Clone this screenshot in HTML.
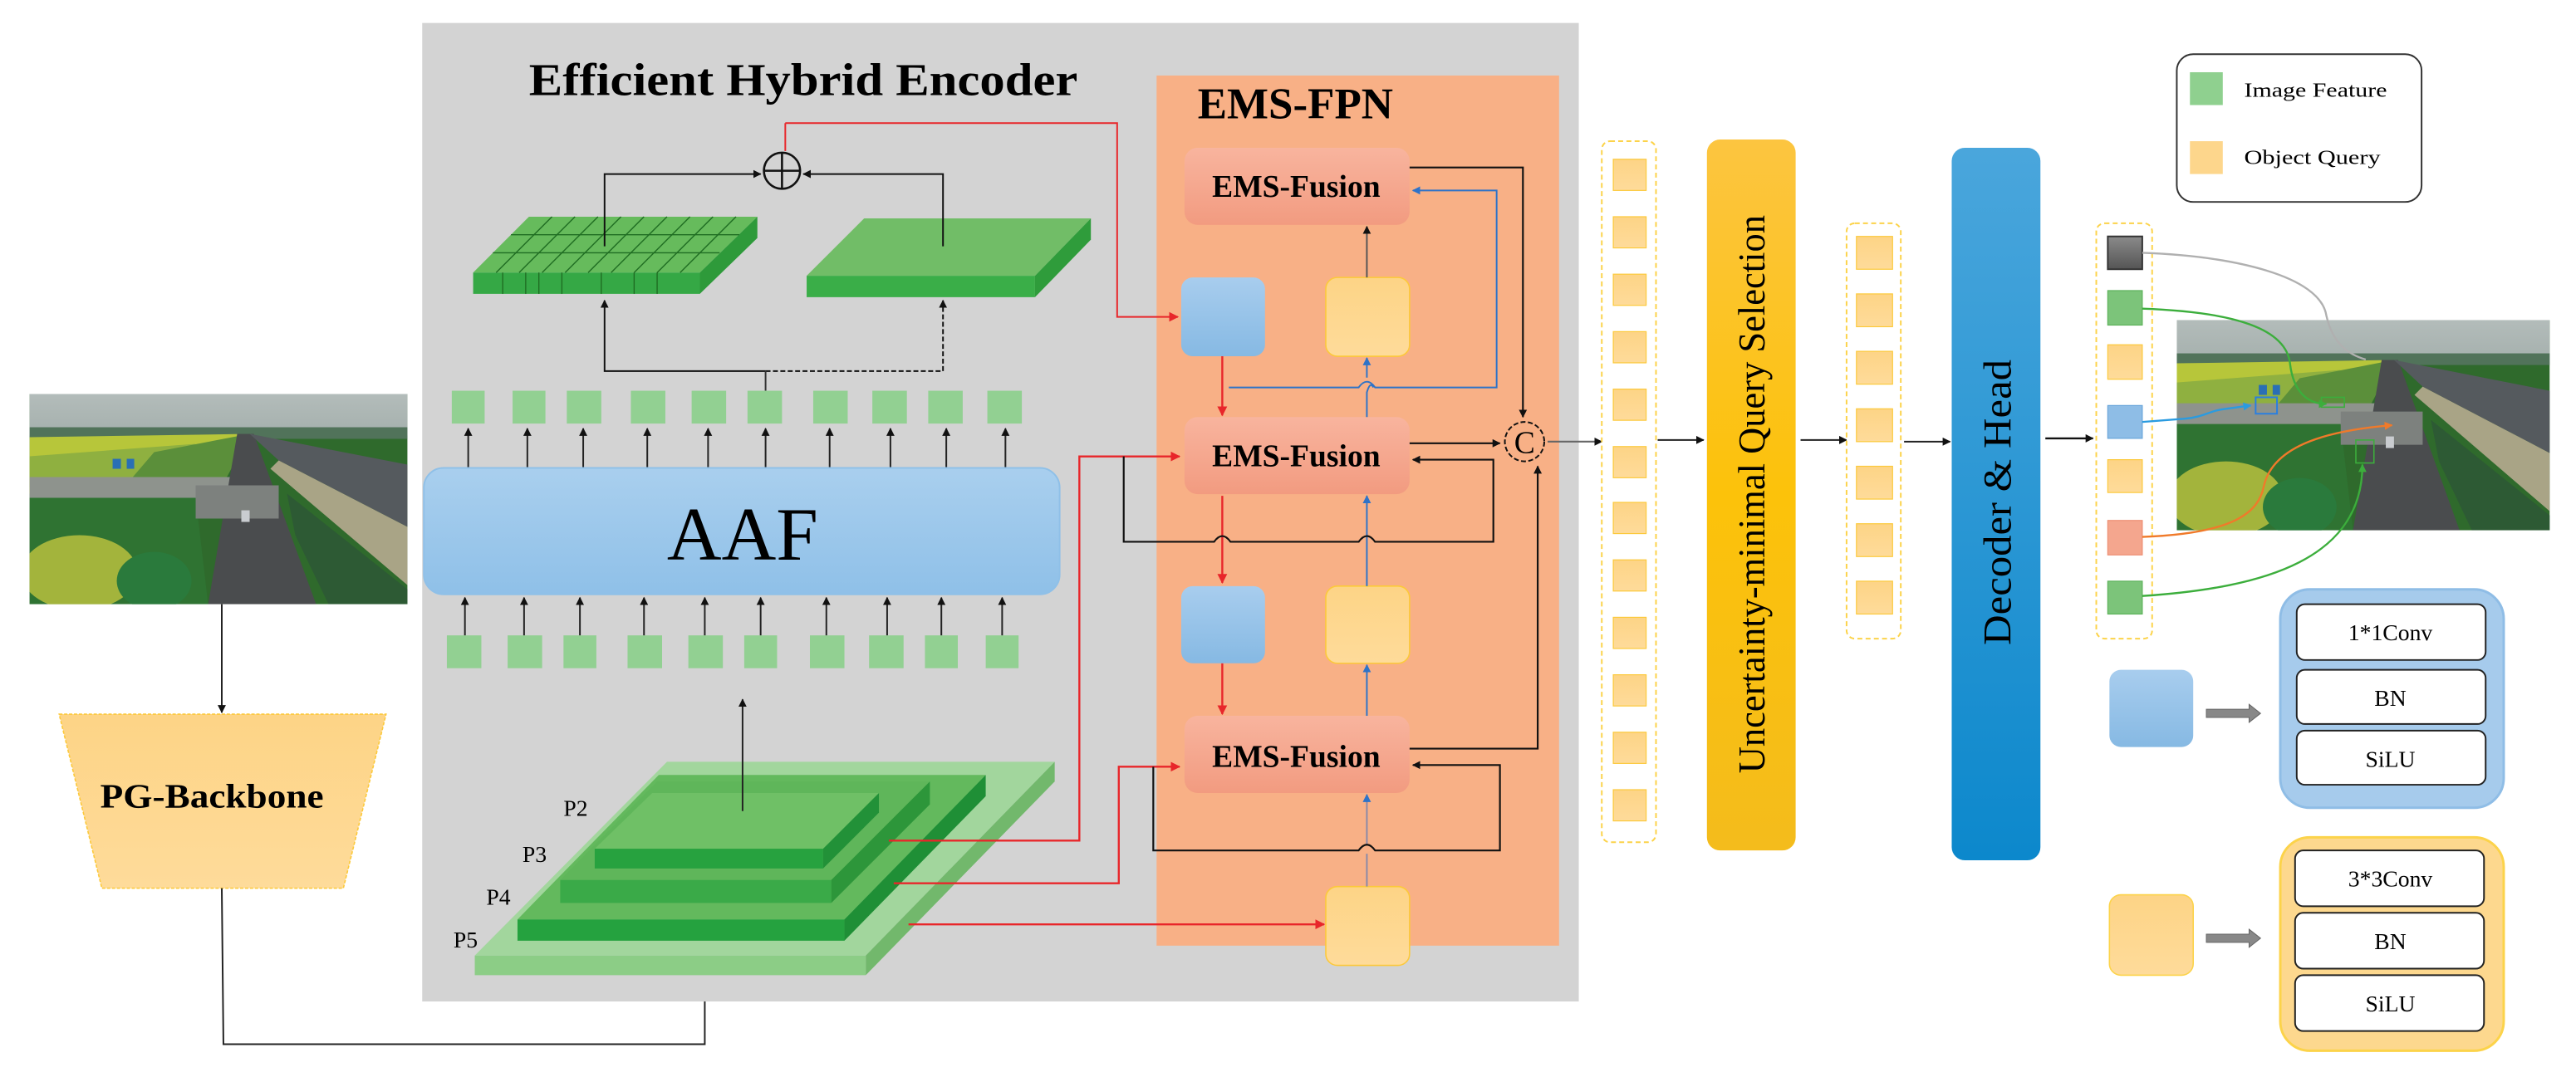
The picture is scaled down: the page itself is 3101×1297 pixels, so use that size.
<!DOCTYPE html>
<html><head><meta charset="utf-8"><style>
html,body{margin:0;padding:0;background:#fff;}
svg{display:block;}
text{font-family:"Liberation Serif",serif;}
</style></head><body>
<svg width="3101" height="1297" viewBox="0 0 1568 656" preserveAspectRatio="none" xmlns="http://www.w3.org/2000/svg">
<defs>
<marker id="ab" viewBox="0 0 10 10" refX="9" refY="5" markerWidth="5" markerHeight="5" markerUnits="userSpaceOnUse" orient="auto"><path d="M0,0L10,5L0,10z" fill="#111"/></marker>
<marker id="ar" viewBox="0 0 10 10" refX="9" refY="5" markerWidth="6" markerHeight="6" markerUnits="userSpaceOnUse" orient="auto"><path d="M0,0L10,5L0,10z" fill="#e8262a"/></marker>
<marker id="au" viewBox="0 0 10 10" refX="9" refY="5" markerWidth="5" markerHeight="5" markerUnits="userSpaceOnUse" orient="auto"><path d="M0,0L10,5L0,10z" fill="#2e73c8"/></marker>
<marker id="ag" viewBox="0 0 10 10" refX="9" refY="5" markerWidth="5" markerHeight="5" markerUnits="userSpaceOnUse" orient="auto"><path d="M0,0L10,5L0,10z" fill="#3cae3c"/></marker>
<marker id="ao" viewBox="0 0 10 10" refX="9" refY="5" markerWidth="5" markerHeight="5" markerUnits="userSpaceOnUse" orient="auto"><path d="M0,0L10,5L0,10z" fill="#f07a2a"/></marker>
<marker id="abl" viewBox="0 0 10 10" refX="9" refY="5" markerWidth="5" markerHeight="5" markerUnits="userSpaceOnUse" orient="auto"><path d="M0,0L10,5L0,10z" fill="#2a9be0"/></marker>
<linearGradient id="gYel" x1="0" y1="0" x2="0" y2="1"><stop offset="0" stop-color="#fdd486"/><stop offset="1" stop-color="#fedb9a"/></linearGradient>
<linearGradient id="gBlue" x1="0" y1="0" x2="0" y2="1"><stop offset="0" stop-color="#a8cdee"/><stop offset="1" stop-color="#86b9e3"/></linearGradient>
<linearGradient id="gAAF" x1="0" y1="0" x2="0" y2="1"><stop offset="0" stop-color="#a9cfee"/><stop offset="1" stop-color="#8fc0e8"/></linearGradient>
<linearGradient id="gFus" x1="0" y1="0" x2="0" y2="1"><stop offset="0" stop-color="#f8b49e"/><stop offset="1" stop-color="#f29b80"/></linearGradient>
<linearGradient id="gUnc" x1="0" y1="0" x2="0" y2="1"><stop offset="0" stop-color="#fcc540"/><stop offset="0.5" stop-color="#fcc20a"/><stop offset="1" stop-color="#f4bc1c"/></linearGradient>
<linearGradient id="gDec" x1="0" y1="0" x2="0" y2="1"><stop offset="0" stop-color="#4aa6dc"/><stop offset="1" stop-color="#0c88cc"/></linearGradient>
<linearGradient id="gGray" x1="0" y1="0" x2="0" y2="1"><stop offset="0" stop-color="#8a8a8a"/><stop offset="1" stop-color="#555"/></linearGradient>
<linearGradient id="gSky" x1="0" y1="0" x2="0" y2="1"><stop offset="0" stop-color="#b3bcba"/><stop offset="1" stop-color="#a5b0ad"/></linearGradient>
<symbol id="photo" viewBox="0 0 455 253" preserveAspectRatio="none">
<rect width="455" height="253" fill="#2f6a2c"/>
<rect width="455" height="50" fill="url(#gSky)"/>
<rect y="40" width="455" height="14" fill="#51735a"/>
<polygon points="0,52 265,48 180,120 0,120" fill="#b7c63a"/>
<polygon points="0,75 200,60 120,110 0,112" fill="#8fb040"/>
<polygon points="150,70 265,48 235,105 120,105" fill="#5b8f3a"/>
<polygon points="0,100 250,100 250,130 0,130" fill="#8e938d"/>
<polygon points="0,125 200,125 215,253 0,253" fill="#2f7332"/>
<ellipse cx="60" cy="215" rx="70" ry="45" fill="#a3b43c"/>
<ellipse cx="150" cy="225" rx="45" ry="35" fill="#2a7a3c"/>
<polygon points="250,48 270,48 345,253 215,253" fill="#4a4c4e"/>
<polygon points="200,110 300,110 300,150 200,150" fill="#7d817e"/>
<polygon points="265,48 455,85 455,160 300,80" fill="#555a5e"/>
<polygon points="300,80 455,160 455,230 290,90" fill="#a9a486"/>
<polygon points="310,120 455,235 455,253 360,253 320,170" fill="#2d5a34"/>
<rect x="100" y="78" width="10" height="12" fill="#2a6fb5"/><rect x="117" y="78" width="9" height="12" fill="#2a6fb5"/>
<rect x="255" y="140" width="10" height="14" fill="#c9ccd0"/>
</symbol>
</defs>

<!-- left photo -->
<use href="#photo" x="18" y="240" width="230" height="128"/>
<line x1="135" y1="368" x2="135" y2="434" stroke="#222" stroke-width="1" marker-end="url(#ab)"/>
<polygon points="36,435 235,435 209,541 62,541" fill="url(#gYel)" stroke="#fcc93a" stroke-width="0.8" stroke-dasharray="2,1"/>
<text x="129" y="492" font-size="21" font-weight="bold" text-anchor="middle" textLength="136" lengthAdjust="spacingAndGlyphs">PG-Backbone</text>
<polyline points="135,541 136,636 429,636 429,595" fill="none" stroke="#222" stroke-width="1" marker-end="url(#ab)"/>

<!-- gray box -->
<rect x="257" y="14" width="704" height="596" fill="#d3d3d3"/>
<text x="322" y="58" font-size="28" font-weight="bold" textLength="334" lengthAdjust="spacingAndGlyphs">Efficient Hybrid Encoder</text>

<!-- orange box -->
<rect x="704" y="46" width="245" height="530" fill="#f8b086"/>
<text x="729" y="72" font-size="27" font-weight="bold" textLength="119" lengthAdjust="spacingAndGlyphs">EMS-FPN</text>

<!-- grid plate -->
<polygon points="322,132 461,132 426,166 288,166" fill="#66bb5c"/>
<polygon points="288,166 426,166 426,179 288,179" fill="#35a845"/>
<polygon points="426,166 461,132 461,145 426,179" fill="#2e9a3a"/>
<g stroke="#1f6d22" stroke-width="0.7">
<line x1="336" y1="132" x2="302" y2="166"/><line x1="350" y1="132" x2="316" y2="166"/><line x1="364" y1="132" x2="330" y2="166"/><line x1="378" y1="132" x2="344" y2="166"/><line x1="392" y1="132" x2="358" y2="166"/><line x1="406" y1="132" x2="372" y2="166"/><line x1="420" y1="132" x2="386" y2="166"/><line x1="434" y1="132" x2="400" y2="166"/><line x1="448" y1="132" x2="414" y2="166"/>
<line x1="311" y1="143" x2="450" y2="143"/><line x1="300" y1="154" x2="438" y2="154"/>
<line x1="306" y1="166" x2="306" y2="179"/><line x1="320" y1="166" x2="320" y2="179"/><line x1="328" y1="166" x2="328" y2="179"/><line x1="342" y1="166" x2="342" y2="179"/><line x1="366" y1="166" x2="366" y2="179"/><line x1="386" y1="166" x2="386" y2="179"/><line x1="400" y1="166" x2="400" y2="179"/>
</g>
<!-- plain plate -->
<polygon points="526,133 664,133 630,168 491,168" fill="#71bd67"/>
<polygon points="491,168 630,168 630,181 491,181" fill="#3aae48"/>
<polygon points="630,168 664,133 664,146 630,181" fill="#2f9c3b"/>

<!-- plus -->
<line x1="478" y1="92" x2="478" y2="75" stroke="#e8262a" stroke-width="1"/>
<polyline points="478,75 680,75 680,193 717,193" fill="none" stroke="#e8262a" stroke-width="1" marker-end="url(#ar)"/>
<circle cx="476" cy="104" r="11" fill="none" stroke="#111" stroke-width="1.3"/>
<line x1="465" y1="104" x2="487" y2="104" stroke="#111" stroke-width="1.3"/>
<line x1="476" y1="93" x2="476" y2="115" stroke="#111" stroke-width="1.3"/>
<polyline points="368,150 368,106 463,106" fill="none" stroke="#111" stroke-width="1" marker-end="url(#ab)"/>
<polyline points="574,150 574,106 489,106" fill="none" stroke="#111" stroke-width="1" marker-end="url(#ab)"/>
<polyline points="466,226 368,226 368,183" fill="none" stroke="#111" stroke-width="1" marker-end="url(#ab)"/>
<polyline points="466,226 574,226 574,183" fill="none" stroke="#111" stroke-width="1" stroke-dasharray="3,1.5" marker-end="url(#ab)"/>
<line x1="466" y1="226" x2="466" y2="238" stroke="#333" stroke-width="1"/>

<!-- squares top and bottom -->
<g fill="#92d092">
<rect x="275" y="238" width="20" height="20"/><rect x="312" y="238" width="20" height="20"/><rect x="345" y="238" width="21" height="20"/><rect x="384" y="238" width="21" height="20"/><rect x="421" y="238" width="21" height="20"/><rect x="455" y="238" width="21" height="20"/><rect x="495" y="238" width="21" height="20"/><rect x="531" y="238" width="21" height="20"/><rect x="565" y="238" width="21" height="20"/><rect x="601" y="238" width="21" height="20"/>
<rect x="272" y="387" width="21" height="20"/><rect x="309" y="387" width="21" height="20"/><rect x="343" y="387" width="20" height="20"/><rect x="382" y="387" width="21" height="20"/><rect x="419" y="387" width="21" height="20"/><rect x="453" y="387" width="20" height="20"/><rect x="493" y="387" width="21" height="20"/><rect x="529" y="387" width="21" height="20"/><rect x="563" y="387" width="20" height="20"/><rect x="600" y="387" width="20" height="20"/>
</g>
<g stroke="#222" stroke-width="1" marker-end="url(#ab)">
<line x1="285" y1="285" x2="285" y2="261"/><line x1="321" y1="285" x2="321" y2="261"/><line x1="355" y1="285" x2="355" y2="261"/><line x1="394" y1="285" x2="394" y2="261"/><line x1="431" y1="285" x2="431" y2="261"/><line x1="466" y1="285" x2="466" y2="261"/><line x1="505" y1="285" x2="505" y2="261"/><line x1="542" y1="285" x2="542" y2="261"/><line x1="576" y1="285" x2="576" y2="261"/><line x1="612" y1="285" x2="612" y2="261"/>
<line x1="283" y1="387" x2="283" y2="364"/><line x1="319" y1="387" x2="319" y2="364"/><line x1="353" y1="387" x2="353" y2="364"/><line x1="392" y1="387" x2="392" y2="364"/><line x1="429" y1="387" x2="429" y2="364"/><line x1="463" y1="387" x2="463" y2="364"/><line x1="503" y1="387" x2="503" y2="364"/><line x1="540" y1="387" x2="540" y2="364"/><line x1="573" y1="387" x2="573" y2="364"/><line x1="610" y1="387" x2="610" y2="364"/>
</g>
<!-- AAF -->
<rect x="258" y="285" width="387" height="77" rx="12" fill="url(#gAAF)" stroke="#8fc0e8" stroke-width="1"/>
<text x="452" y="341" font-size="46" text-anchor="middle">AAF</text>

<!-- pyramid -->
<polygon points="406,464 642,464 527,582 289,582" fill="#9fd69a" opacity="0.95"/>
<polygon points="289,582 527,582 527,594 289,594" fill="#8ccd86"/>
<polygon points="527,582 642,464 642,476 527,594" fill="#72b86c"/>
<polygon points="401,472 600,472 514,560 315,560" fill="#63b95d"/>
<polygon points="315,560 514,560 514,573 315,573" fill="#25a23f"/>
<polygon points="514,560 600,472 600,485 514,573" fill="#1f8f36"/>
<polygon points="400,476 566,476 506,536 341,536" fill="#5fb65a"/>
<polygon points="341,536 506,536 506,550 341,550" fill="#3aaa48"/>
<polygon points="506,536 566,476 566,490 506,550" fill="#2d963a"/>
<polygon points="397,483 535,483 501,517 362,517" fill="#6fc066"/>
<polygon points="362,517 501,517 501,529 362,529" fill="#27a23f"/>
<polygon points="501,517 535,483 535,495 501,529" fill="#229138"/>
<line x1="452" y1="494" x2="452" y2="426" stroke="#222" stroke-width="1" marker-end="url(#ab)"/>
<g font-size="14"><text x="343" y="497">P2</text><text x="318" y="525">P3</text><text x="296" y="551">P4</text><text x="276" y="577">P5</text></g>

<!-- red lines -->
<g fill="none" stroke="#e8262a" stroke-width="1.2">
<polyline points="541,512 657,512 657,278 718,278" marker-end="url(#ar)"/>
<polyline points="544,538 681,538 681,467 718,467" marker-end="url(#ar)"/>
<polyline points="553,563 806,563" marker-end="url(#ar)"/>
<line x1="744" y1="217" x2="744" y2="253" marker-end="url(#ar)"/>
<line x1="744" y1="302" x2="744" y2="355" marker-end="url(#ar)"/>
<line x1="744" y1="404" x2="744" y2="435" marker-end="url(#ar)"/>
</g>

<!-- EMS blocks -->
<g fill="url(#gFus)">
<rect x="721" y="90" width="137" height="47" rx="8"/>
<rect x="721" y="254" width="137" height="47" rx="8"/>
<rect x="721" y="436" width="137" height="47" rx="8"/>
</g>
<g font-size="19" font-weight="bold" text-anchor="middle">
<text x="789" y="120">EMS-Fusion</text><text x="789" y="284">EMS-Fusion</text><text x="789" y="467">EMS-Fusion</text>
</g>
<g>
<rect x="719" y="169" width="51" height="48" rx="7" fill="url(#gBlue)"/>
<rect x="719" y="357" width="51" height="47" rx="7" fill="url(#gBlue)"/>
<rect x="807" y="169" width="51" height="48" rx="7" fill="url(#gYel)" stroke="#fcc93a" stroke-width="0.8"/>
<rect x="807" y="357" width="51" height="47" rx="7" fill="url(#gYel)" stroke="#fcc93a" stroke-width="0.8"/>
<rect x="807" y="540" width="51" height="48" rx="7" fill="url(#gYel)" stroke="#fcc93a" stroke-width="0.8"/>
</g>
<!-- blue arrows -->
<g fill="none" stroke="#2e73c8" stroke-width="1">
<line x1="832" y1="169" x2="832" y2="138" stroke="#555" marker-end="url(#ab)"/>
<path d="M832,254 L832,239 Q834,232 836,236 M832,230 L832,218" marker-end="url(#au)"/>
<path d="M832,357 L832,302" marker-end="url(#au)"/>
<path d="M832,436 L832,405" marker-end="url(#au)"/>
<path d="M832,540 L832,520 M832,514 L832,484" stroke="#8a8aa8" marker-end="url(#au)"/>
<path d="M748,236 L827,236 Q832,229 837,236 L911,236 L911,116 L860,116" marker-end="url(#au)"/>
</g>
<!-- black connectors -->
<g fill="none" stroke="#111" stroke-width="1.1">
<polyline points="858,102 927,102 927,254" marker-end="url(#ab)"/>
<line x1="858" y1="270" x2="913" y2="270" marker-end="url(#ab)"/>
<polyline points="858,456 936,456 936,284" marker-end="url(#ab)"/>
<path d="M684,278 L684,330 L739,330 Q744,323 749,330 L827,330 Q832,323 837,330 L909,330 L909,280 L860,280" marker-end="url(#ab)"/>
<path d="M702,467 L702,518 L827,518 Q832,511 837,518 L913,518 L913,466 L860,466" marker-end="url(#ab)"/>
<line x1="942" y1="269" x2="975" y2="269" stroke="#666" marker-end="url(#ab)"/>
</g>
<circle cx="928" cy="269" r="12" fill="none" stroke="#111" stroke-width="1" stroke-dasharray="3,1.5"/>
<text x="928" y="276" font-size="19" text-anchor="middle">C</text>

<!-- query column 1 -->
<rect x="975" y="86" width="33" height="427" rx="5" fill="#fff" stroke="#fcd34a" stroke-width="1" stroke-dasharray="3,2"/>
<g fill="url(#gYel)" stroke="#fcc93a" stroke-width="0.6">
<rect x="982" y="97" width="20" height="19"/><rect x="982" y="132" width="20" height="19"/><rect x="982" y="167" width="20" height="19"/><rect x="982" y="202" width="20" height="19"/><rect x="982" y="237" width="20" height="19"/><rect x="982" y="272" width="20" height="19"/><rect x="982" y="306" width="20" height="19"/><rect x="982" y="341" width="20" height="19"/><rect x="982" y="376" width="20" height="19"/><rect x="982" y="411" width="20" height="19"/><rect x="982" y="446" width="20" height="19"/><rect x="982" y="481" width="20" height="19"/>
</g>
<line x1="1009" y1="268" x2="1037" y2="268" stroke="#222" stroke-width="1" marker-end="url(#ab)"/>
<rect x="1039" y="85" width="54" height="433" rx="8" fill="url(#gUnc)"/>
<text transform="translate(1074,301) rotate(-90)" font-size="23" text-anchor="middle" textLength="340" lengthAdjust="spacingAndGlyphs">Uncertainty-minimal Query Selection</text>
<line x1="1096" y1="268" x2="1124" y2="268" stroke="#222" stroke-width="1" marker-end="url(#ab)"/>
<rect x="1124" y="136" width="33" height="253" rx="5" fill="#fff" stroke="#fcd34a" stroke-width="1" stroke-dasharray="3,2"/>
<g fill="url(#gYel)" stroke="#fcc93a" stroke-width="0.6">
<rect x="1130" y="144" width="22" height="20"/><rect x="1130" y="179" width="22" height="20"/><rect x="1130" y="214" width="22" height="20"/><rect x="1130" y="249" width="22" height="20"/><rect x="1130" y="284" width="22" height="20"/><rect x="1130" y="319" width="22" height="20"/><rect x="1130" y="354" width="22" height="20"/>
</g>
<line x1="1159" y1="269" x2="1187" y2="269" stroke="#222" stroke-width="1" marker-end="url(#ab)"/>
<rect x="1188" y="90" width="54" height="434" rx="8" fill="url(#gDec)"/>
<text transform="translate(1224,306) rotate(-90)" font-size="24" text-anchor="middle" textLength="174" lengthAdjust="spacingAndGlyphs">Decoder &amp; Head</text>
<line x1="1245" y1="267" x2="1274" y2="267" stroke="#111" stroke-width="1.2" marker-end="url(#ab)"/>

<!-- output column -->
<rect x="1276" y="136" width="34" height="253" rx="5" fill="#fff" stroke="#fcd34a" stroke-width="1" stroke-dasharray="3,2"/>
<rect x="1283" y="144" width="21" height="20" fill="url(#gGray)" stroke="#333" stroke-width="1"/>
<rect x="1283" y="177" width="21" height="21" fill="#7cc47a" stroke="#5cb25a" stroke-width="0.6"/>
<rect x="1283" y="210" width="21" height="21" fill="url(#gYel)" stroke="#fcc93a" stroke-width="0.6"/>
<rect x="1283" y="247" width="21" height="20" fill="#8ebde6" stroke="#6aa6da" stroke-width="0.6"/>
<rect x="1283" y="280" width="21" height="20" fill="url(#gYel)" stroke="#fcc93a" stroke-width="0.6"/>
<rect x="1283" y="317" width="21" height="21" fill="#f4a68e" stroke="#ee8e72" stroke-width="0.6"/>
<rect x="1283" y="354" width="21" height="20" fill="#7cc47a" stroke="#5cb25a" stroke-width="0.6"/>

<!-- right photo -->
<use href="#photo" x="1325" y="195" width="227" height="128"/>
<g fill="none" stroke-width="1.2">
<path d="M1304,154 C1360,156 1412,168 1416,192 C1420,210 1430,216 1440,219" stroke="#b0b0b0"/>
<path d="M1304,188 C1360,190 1392,200 1394,222 C1396,238 1404,246 1416,246" stroke="#3cae3c" marker-end="url(#ag)"/>
<path d="M1304,257 L1330,255 C1342,254 1345,250 1355,249 L1370,247" stroke="#2a9be0" marker-end="url(#abl)"/>
<path d="M1304,327 C1360,325 1375,312 1378,296 C1384,270 1420,262 1456,259" stroke="#f07a2a" marker-end="url(#ao)"/>
<path d="M1304,363 C1380,358 1438,340 1438,283" stroke="#3cae3c" marker-end="url(#ag)"/>
</g>
<rect x="1373" y="242" width="13" height="10" fill="none" stroke="#2a7fe0" stroke-width="1"/>
<rect x="1413" y="242" width="14" height="6" fill="none" stroke="#3cae3c" stroke-width="0.8"/>
<rect x="1434" y="268" width="11" height="14" fill="none" stroke="#3cae3c" stroke-width="0.8"/>

<!-- legend -->
<rect x="1325" y="33" width="149" height="90" rx="10" fill="#fff" stroke="#333" stroke-width="1"/>
<rect x="1333" y="44" width="20" height="20" fill="#8fd08f"/>
<rect x="1333" y="86" width="20" height="20" fill="#fdd68c"/>
<text x="1366" y="59" font-size="12.5" textLength="87" lengthAdjust="spacingAndGlyphs">Image Feature</text>
<text x="1366" y="100" font-size="12.5" textLength="83" lengthAdjust="spacingAndGlyphs">Object Query</text>

<!-- module boxes -->
<rect x="1284" y="408" width="51" height="47" rx="7" fill="url(#gBlue)"/>
<polygon points="1343,432 1369,432 1369,429 1376,434.5 1369,440 1369,437 1343,437" fill="#888" stroke="#666" stroke-width="0.5"/>
<rect x="1388" y="359" width="136" height="133" rx="18" fill="#a6cbec" stroke="#8fbde6" stroke-width="1.5"/>
<g fill="#fff" stroke="#222" stroke-width="1">
<rect x="1398" y="368" width="115" height="34" rx="5"/><rect x="1398" y="408" width="115" height="33" rx="5"/><rect x="1398" y="445" width="115" height="33" rx="5"/>
</g>
<g font-size="14" text-anchor="middle"><text x="1455" y="390">1*1Conv</text><text x="1455" y="430">BN</text><text x="1455" y="467">SiLU</text></g>

<rect x="1284" y="545" width="51" height="49" rx="7" fill="url(#gYel)" stroke="#fcd34a" stroke-width="0.8"/>
<polygon points="1343,569 1369,569 1369,566 1376,571.5 1369,577 1369,574 1343,574" fill="#888" stroke="#666" stroke-width="0.5"/>
<rect x="1388" y="510" width="136" height="130" rx="18" fill="#fdd88e" stroke="#fcd34a" stroke-width="1.5"/>
<g fill="#fff" stroke="#222" stroke-width="1">
<rect x="1397" y="518" width="115" height="34" rx="5"/><rect x="1397" y="556" width="115" height="34" rx="5"/><rect x="1397" y="594" width="115" height="34" rx="5"/>
</g>
<g font-size="14" text-anchor="middle"><text x="1455" y="540">3*3Conv</text><text x="1455" y="578">BN</text><text x="1455" y="616">SiLU</text></g>
</svg>
</body></html>
